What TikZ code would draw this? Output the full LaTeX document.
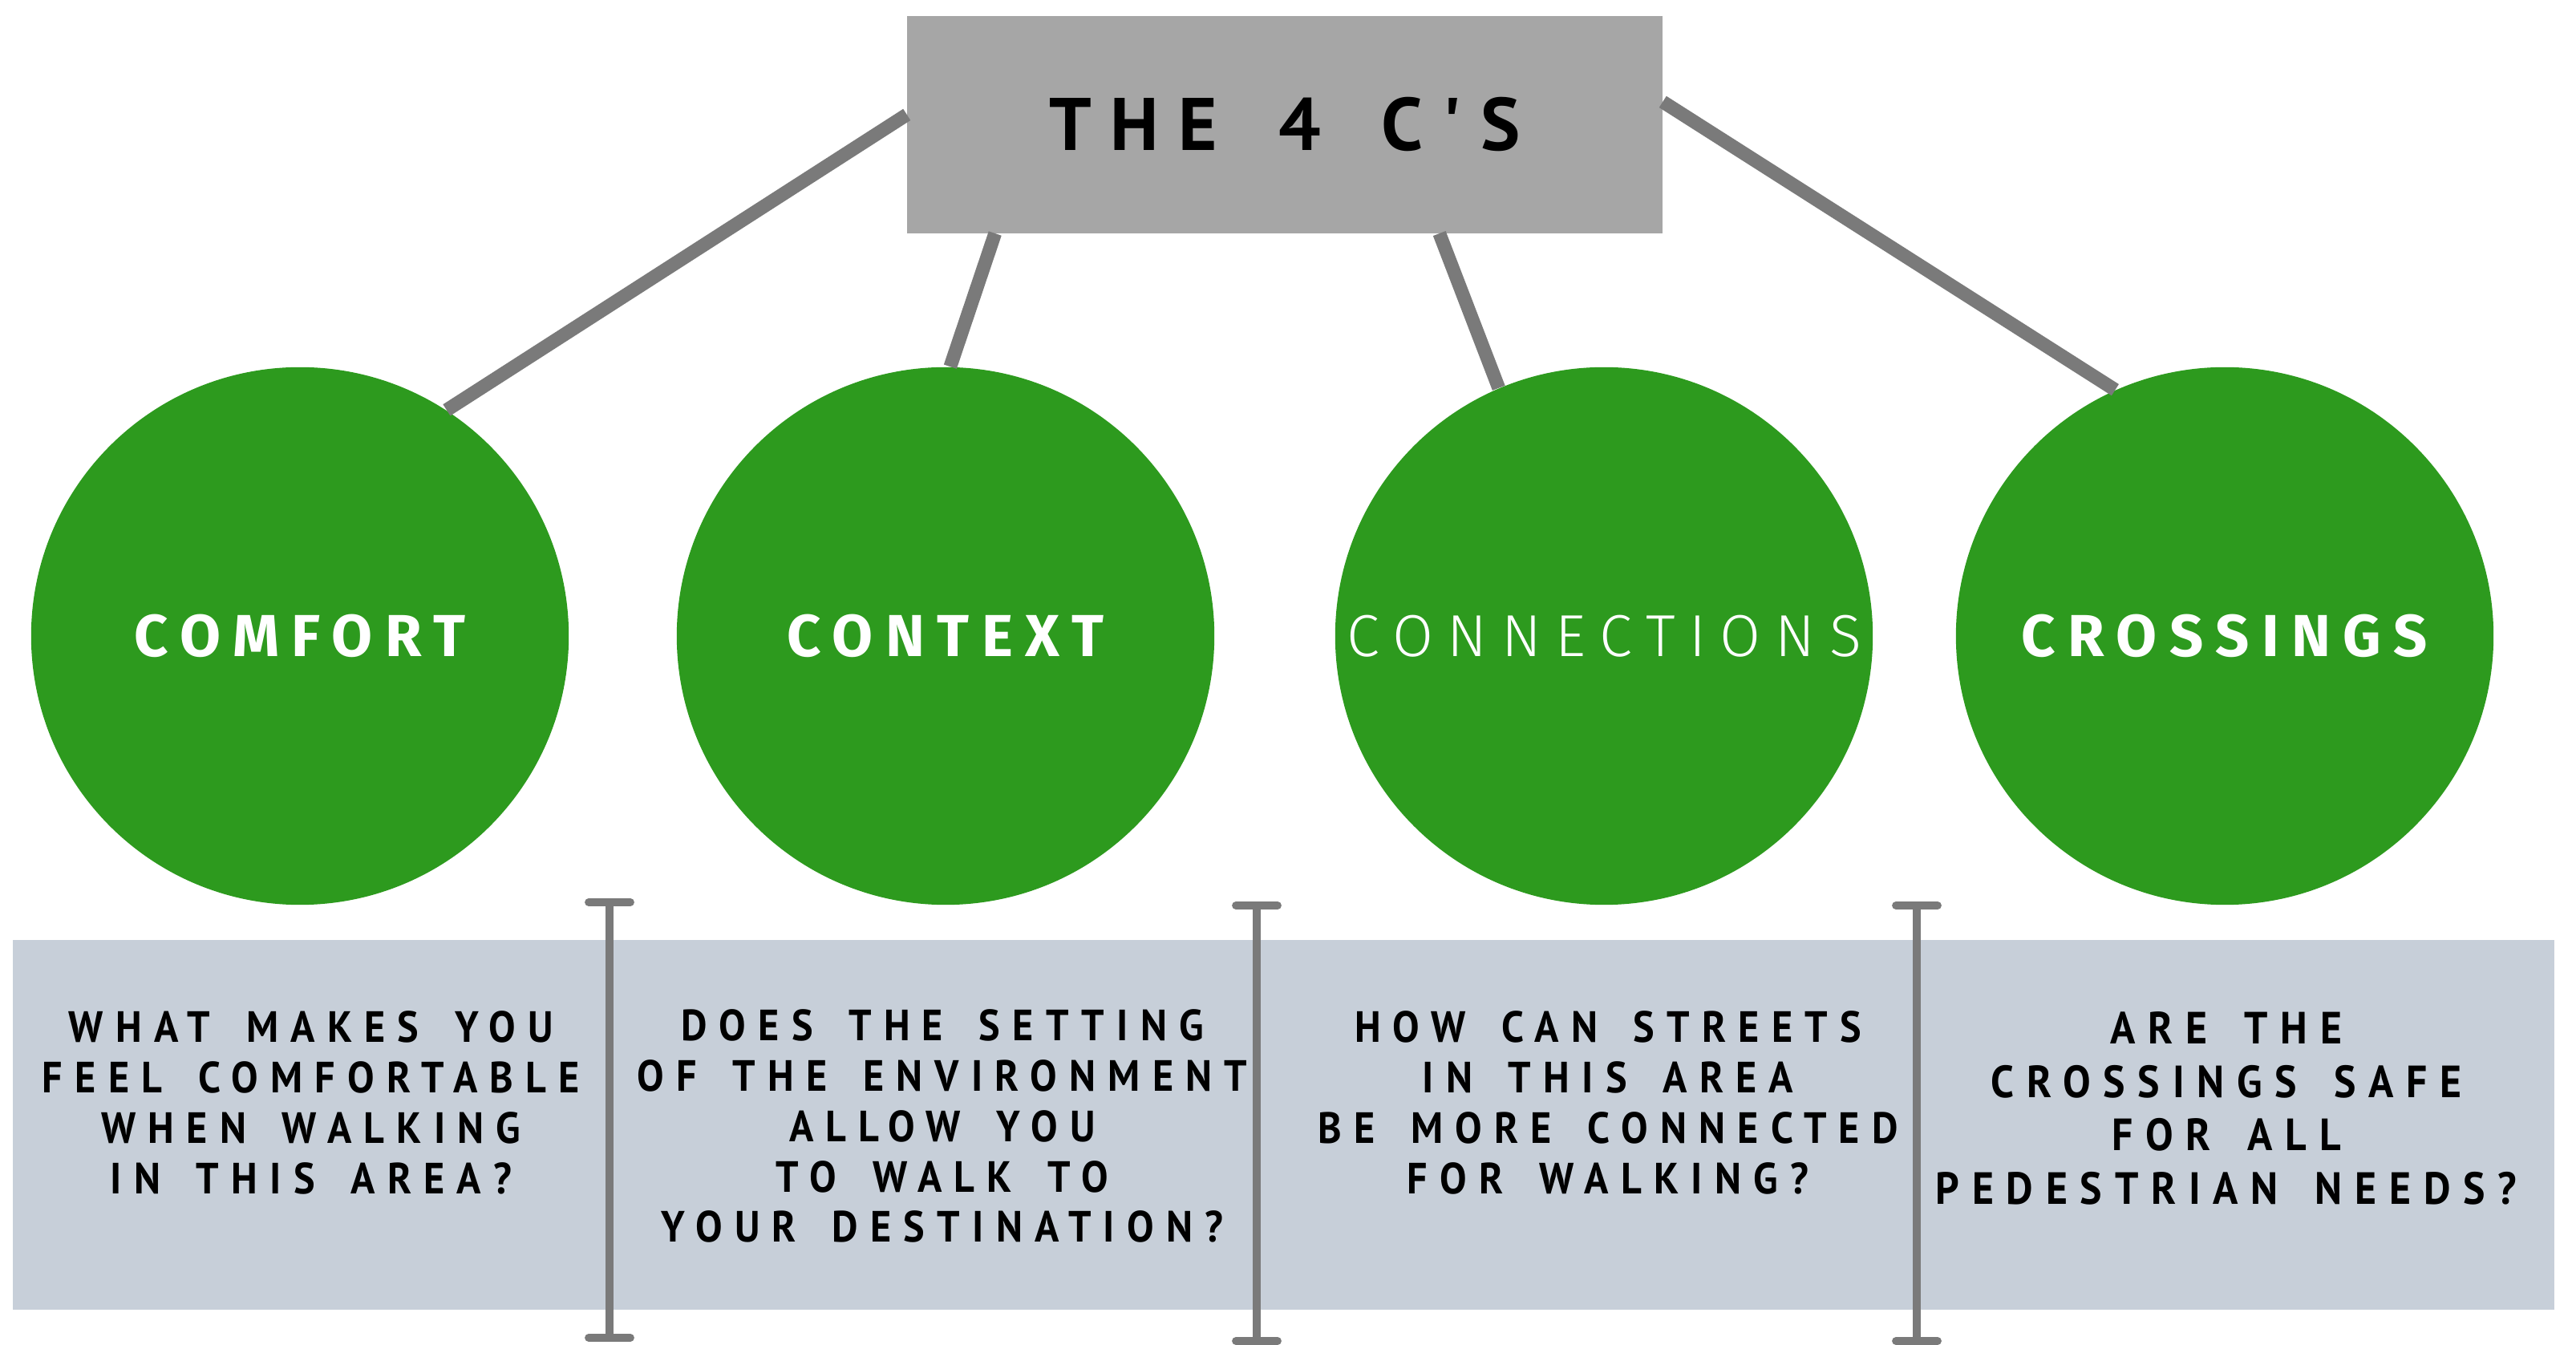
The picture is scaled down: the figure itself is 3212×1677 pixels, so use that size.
\documentclass[tikz,border=0pt]{standalone}
\usepackage{fontspec}
\usetikzlibrary{calc}
\setmainfont{PT Sans}
\newfontfamily\headfont[LetterSpace=26,WordSpace=1.6]{PT Sans}
\newfontfamily\cfont[LetterSpace=21]{Fira Sans}
\newfontfamily\clightfont[LetterSpace=24]{Fira Sans Light}
\newfontfamily\qfont[LetterSpace=28,FakeStretch=0.92,WordSpace=1.6]{PT Sans}

\definecolor{boxgray}{HTML}{A6A6A6}
\definecolor{linegray}{HTML}{7A7A7A}
\definecolor{cgreen}{HTML}{2D9A1E}
\definecolor{bandblue}{HTML}{C7CFD9}

\tikzset{
	link/.style={draw=linegray, line width=4.8pt},
	cnode/.style={circle, fill=cgreen, minimum size=6.7cm, inner sep=0pt, text=white, font=\cfont\bfseries\fontsize{21}{25}\selectfont},
	qnode/.style={align=center, inner sep=0pt, font=\qfont\bfseries\fontsize{15.5}{17.9}\selectfont},
	bar/.style={draw=linegray, line width=2.8pt, line cap=round},
}

\begin{document}
\begin{tikzpicture}[x=0.01cm, y=-0.01cm]
		\useasboundingbox (0,0) rectangle (3212,1677);
		\node[fill=boxgray, outer sep=0pt, minimum width=9.42cm, minimum height=2.71cm, font=\headfont\bfseries\fontsize{26.4}{30}\selectfont] (title) at (1602,155.5) {THE 4 C'S};
		\node[cnode] (comfort) at (374,793) {COMFORT};
		\node[cnode] (context) at (1179,793) {CONTEXT};
		\node[cnode, font=\clightfont\fontsize{21}{25}\selectfont] (connections) at (2000,793) {CONNECTIONS};
		\node[cnode] (crossings) at (2774,793) {CROSSINGS};
		\draw[link] ($(title.north west)+(0,123)$) -- (comfort.57);
		\draw[link] ($(title.south west)+(110,0)$) -- (context.89);
		\draw[link] ($(title.south west)+(664,0)$) -- (connections.113.4);
		\draw[link] ($(title.north east)+(0,107)$) -- (crossings.114.8);
		% questions
		\fill[bandblue] (16,1172) rectangle (3185,1633);
		\node[qnode] (qcomfort) at (388,1375) {WHAT MAKES YOU\\FEEL COMFORTABLE\\WHEN WALKING\\IN THIS AREA?};
		\node[qnode] (qcontext) at (1175,1404) {DOES THE SETTING\\OF THE ENVIRONMENT\\ALLOW YOU\\TO WALK TO\\YOUR DESTINATION?};
		\node[qnode] (qconnections) at (2005,1375) {HOW CAN STREETS\\IN THIS AREA\\BE MORE CONNECTED\\FOR WALKING?};
		\node[qnode, font=\qfont\bfseries\fontsize{16}{19}\selectfont] (qcrossings) at (2776,1382) {ARE THE\\CROSSINGS SAFE\\FOR ALL\\PEDESTRIAN NEEDS?};
		\foreach \x/\t/\b in {760/1125/1668, 1567/1129/1672, 2390/1129/1672} {
			\draw[bar] (\x,\t) -- (\x,\b);
			\draw[bar] (\x-26,\t) -- (\x+26,\t);
			\draw[bar] (\x-26,\b) -- (\x+26,\b);
		}
\end{tikzpicture}
\end{document}
